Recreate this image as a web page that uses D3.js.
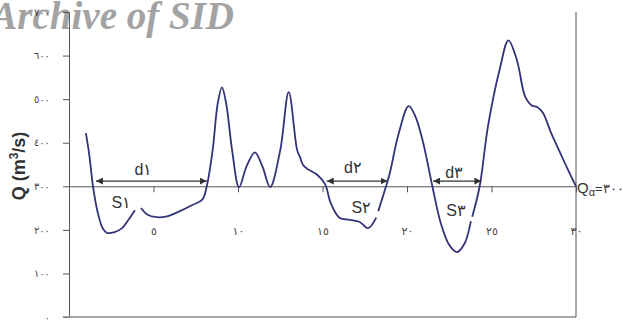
<!DOCTYPE html>
<html>
<head>
<meta charset="utf-8">
<script src="https://cdn.jsdelivr.net/npm/d3@7"></script>
<style>
  html, body { margin: 0; padding: 0; background: #fff; }
  svg { display: block; }
</style>
</head>
<body>
<svg id="chart" width="623" height="334"></svg>
<script>
// Daily flow hydrograph (time, discharge); null marks a break in the drawn line
const time = [1.0, 1.2, 1.42, 1.7, 2.0, 2.25, 2.7, 3.14, 3.5, 3.9, 4.1,
  4.26, 4.6, 5.2, 5.8, 6.5, 7.3, 7.9, 8.15, 8.5, 8.8, 9.05, 9.3, 9.65, 10.06,
  10.5, 11.0, 11.45, 11.9, 12.5, 13.0, 13.5, 13.67, 13.85, 14.1, 14.7, 15.15,
  15.5, 16.0, 16.6, 17.2, 17.7, 18.18, 18.24,
  18.3, 18.76, 19.0, 19.5, 20.1, 20.5, 20.95, 21.5, 22.0, 22.5, 22.95, 23.4, 23.78, 23.81,
  23.86, 24.3, 24.8, 25.5, 26.0, 26.5, 27.0, 27.4, 27.7, 28.05, 28.5, 29.05, 29.5, 30.0];
const flow = [422, 372, 300, 240, 203, 193, 195, 204, 222, 245, null,
  250, 236, 229, 231, 242, 257, 270, 300, 383, 490, 527, 490, 383, 298,
  345, 378, 345, 298, 383, 516, 383, 367, 349, 340, 326, 305,
  260, 228, 223, 218, 204, 228, null,
  243, 300, 333, 420, 484, 460, 401, 300, 215, 165, 149, 168, 220, null,
  230, 300, 440, 571, 635, 590, 505, 485, 482, 468, 425, 378, 340, 300];

// Threshold discharge and the spells below it
const threshold = 300;
const spellLabels = ["d١", "d٢", "d٣"];
const spellStart = [1.6, 15.25, 21.55];
const spellEnd = [8.15, 18.85, 24.4];
const deficitLabels = ["S١", "S٢", "S٣"];
const deficitT = [3.1, 17.3, 22.9];
const deficitQ = [263, 252, 245];
const spellLabelT = [4.4, 16.8, 22.8];
const spellLabelQ = [338, 343, 332];

// Axis ticks
const yTicks = [0, 100, 200, 300, 400, 500, 600, 700];
const yTickLabels = ["٠", "١٠٠", "٢٠٠", "٣٠٠", "٤٠٠", "٥٠٠", "٦٠٠", "٧٠٠"];
const xTicks = [5, 10, 15, 20, 25, 30];
const xTickLabels = ["٥", "١٠", "١٥", "٢٠", "٢٥", "٣٠"];

const svg = d3.select("#chart");
const x = d3.scaleLinear().domain([0, 30]).range([69, 576]);
const y = d3.scaleLinear().domain([0, 700]).range([317, 12]);

// Faint watermark behind the plot
svg.append("text")
  .attr("x", 234).attr("y", 29)
  .attr("text-anchor", "end")
  .attr("font-family", "'Liberation Serif', 'Times New Roman', serif")
  .attr("font-weight", "bold").attr("font-style", "italic")
  .attr("font-size", 39)
  .attr("fill", "#a3a3a3")
  .text("Archive of SID");

// Left axis
const yAxis = svg.append("g")
  .attr("transform", `translate(${x(0)},0)`)
  .call(d3.axisLeft(y).tickValues(yTicks)
    .tickFormat((d, i) => yTickLabels[i])
    .tickSize(6).tickSizeOuter(0).tickPadding(13));
yAxis.selectAll("path, line").attr("stroke", "#555");
yAxis.selectAll("text").attr("fill", "#444").attr("font-size", 10)
  .attr("font-family", "'DejaVu Sans', sans-serif");

// Bottom frame line and right edge
svg.append("line")
  .attr("x1", x(0) - 6).attr("x2", x(30))
  .attr("y1", y(0)).attr("y2", y(0))
  .attr("stroke", "#888").attr("stroke-width", 1.6);
svg.append("line")
  .attr("x1", x(30)).attr("x2", x(30))
  .attr("y1", y(700)).attr("y2", y(0))
  .attr("stroke", "#555");

// Threshold line carrying the time ticks
const xAxis = svg.append("g")
  .attr("transform", `translate(0,${y(threshold)})`)
  .call(d3.axisBottom(x).tickValues(xTicks)
    .tickFormat((d, i) => xTickLabels[i])
    .tickSize(6).tickSizeOuter(0).tickPadding(35));
xAxis.selectAll("path, line").attr("stroke", "#555");
xAxis.selectAll("text").attr("fill", "#444").attr("font-size", 11)
  .attr("font-family", "'DejaVu Sans', sans-serif");

// Y title
const yTitle = svg.append("text")
  .attr("transform", "translate(25,166) rotate(-90)")
  .attr("text-anchor", "middle")
  .attr("font-family", "'Liberation Sans', Arial, sans-serif")
  .attr("font-weight", "bold").attr("font-size", 18)
  .attr("fill", "#333");
yTitle.append("tspan").text("Q (m");
yTitle.append("tspan").attr("baseline-shift", "super").attr("font-size", 12).text("3");
yTitle.append("tspan").text("/s)");

// Hydrograph
const pts = time.map((t, i) => ({ t, q: flow[i] }));
const line = d3.line()
  .defined(d => d.q !== null)
  .x(d => x(d.t)).y(d => y(d.q))
  .curve(d3.curveCatmullRom.alpha(0.5));
svg.append("path")
  .attr("d", line(pts))
  .attr("fill", "none")
  .attr("stroke", "#32337a")
  .attr("stroke-width", 1.8)
  .attr("stroke-linejoin", "round");

// Arrow heads
const defs = svg.append("defs");
defs.append("marker").attr("id", "head")
  .attr("viewBox", "0 0 10 10").attr("refX", 10).attr("refY", 5)
  .attr("markerWidth", 7).attr("markerHeight", 7)
  .attr("markerUnits", "userSpaceOnUse")
  .attr("orient", "auto-start-reverse")
  .append("path").attr("d", "M0,0 L10,5 L0,10 Z").attr("fill", "#333");

const arrowQ = 312;
spellStart.forEach((s, i) => {
  svg.append("line")
    .attr("x1", x(s)).attr("x2", x(spellEnd[i]))
    .attr("y1", y(arrowQ)).attr("y2", y(arrowQ))
    .attr("stroke", "#333").attr("stroke-width", 1.2)
    .attr("marker-start", "url(#head)").attr("marker-end", "url(#head)");
  svg.append("text")
    .attr("x", x(spellLabelT[i])).attr("y", y(spellLabelQ[i]))
    .attr("text-anchor", "middle").attr("dominant-baseline", "central")
    .attr("font-family", "'Liberation Sans', Arial, sans-serif")
    .attr("font-size", 16).attr("fill", "#333")
    .text(spellLabels[i]);
  svg.append("text")
    .attr("x", x(deficitT[i])).attr("y", y(deficitQ[i]))
    .attr("text-anchor", "middle").attr("dominant-baseline", "central")
    .attr("font-family", "'Liberation Sans', Arial, sans-serif")
    .attr("font-size", 16).attr("fill", "#333")
    .text(deficitLabels[i]);
});

// Threshold label at the right edge
const qa = svg.append("text")
  .attr("x", x(30) + 1).attr("y", y(threshold) + 7)
  .attr("font-family", "'Liberation Sans', Arial, sans-serif")
  .attr("font-size", 15).attr("fill", "#333");
qa.append("tspan").text("Q");
qa.append("tspan").attr("font-size", 11).attr("dy", 3).text("α");
qa.append("tspan").attr("dy", -3).attr("font-size", 13).text("=٣٠٠");
</script>
</body>
</html>
